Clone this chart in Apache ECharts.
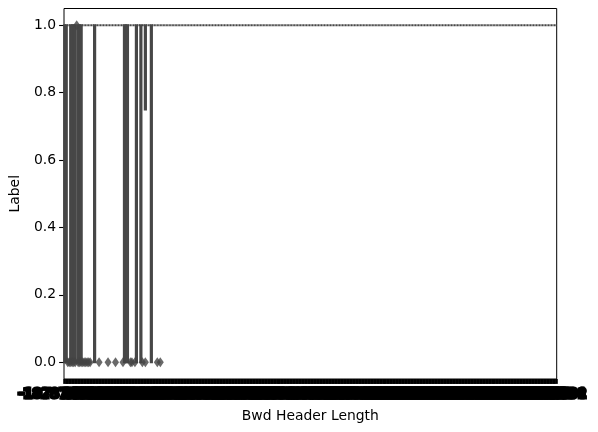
<!DOCTYPE html>
<html><head><meta charset="utf-8">
<script src="https://cdn.jsdelivr.net/npm/echarts@6/dist/echarts.min.js"></script>
<style>html,body{margin:0;padding:0;background:#fff}#c{width:598px;height:432px}</style>
</head><body><div id="c"></div>
<script>
// Category values of Bwd Header Length (x axis, sorted)
const bwdHeaderLength = [
-1828716544,-1073741320,0,
20,24,28,32,36,40,44,48,52,56,
60,64,68,72,76,80,84,88,92,96,
100,104,108,112,116,120,124,128,132,136,
140,144,148,152,156,160,164,168,172,176,
180,184,188,192,196,200,204,208,212,216,
220,224,228,232,236,240,244,248,252,256,
260,264,268,272,276,280,284,288,292,296,
300,304,308,312,316,320,324,328,332,336,
340,344,348,352,356,360,364,368,372,376,
380,384,388,392,396,400,404,408,412,416,
420,424,428,432,436,440,444,448,452,456,
460,464,468,472,476,480,484,488,492,496,
500,504,508,512,516,520,524,528,532,536,
540,544,548,552,556,560,564,568,572,576,
580,584,588,592,596,600,604,608,612,616,
620,624,628,632,636,640,644,648,652,656,
660,664,668,672,676,680,684,688,692,696,
700,704,708,712,716,720,724,728,732,736,
740,744,748,752,756,760,764,768,772,776,
780,784,788,792,796,800,804,
812,824,840,852,864,880,896,912,932,952,
972,992,1012,1032,1060,1088,1116,1144,1172,1200,
1232,1264,1296,1332,1368,1404,1440,1480,1520,1560,
1604,1648,1692,1740,1788,1836,1888,1940,1992,2048,
2104,2164,2224,2288,2352,2420,2488,2560,2632,2708,
2784,2864,2948,3032,3120,3212,3304,3400,3500,3604,
3712,3824,3940,4060,4184,4312,4444,4580,4720,4868,
5020,5176,5340,5508,5684,5868,6056,6252,6456,6668,
6888,7116,7352,7600,7860,8128,8408,8700,9004,9320,
9648,9992,10352,10724,11116,11528,11960,12412,12888,13388,
13916,14472,15060,15684,16344,17044,17788,18580,19424,20324,
21288,22324,23436,24632,25928,27336,28872,30552,32400,34440,
36704,39232,42076,45300,48988,53252,58240,64152,1167684,6554532
];
// Categories whose Label box spans 0..1
const boxesZeroToOne = [-1828716544,-1073741320,24,28,32,36,44,48,52,88,168,172,176,200,212,240];
// Categories whose box spans 0.75..1
const boxesPartial = [224];
const partialLow = [0.75];
// Categories whose Label values are all 0
const boxesAllZero = [40];
// Outlier points (fliers)
const outliersAtZero = [0,20,24,28,32,36,44,48,52,56,60,64,68,72,76,100,124,144,164,184,188,196,216,224,256,264];
const outliersAtOne = [40];
const yTicks = [0,0.2,0.4,0.6,0.8,1.0];

const cats = bwdHeaderLength.map(String);
const boxData = bwdHeaderLength.map(v => {
  if (boxesZeroToOne.includes(v)) return [0,0,1,1,1];
  const p = boxesPartial.indexOf(v);
  if (p >= 0) return [partialLow[p],partialLow[p],1,1,1];
  if (boxesAllZero.includes(v)) return [0,0,0,0,0];
  return [1,1,1,1,1];
});
const flierData = outliersAtZero.map(v => [String(v),0]).concat(outliersAtOne.map(v => [String(v),1]));

const txt = {fontFamily:'DejaVu Sans', fontSize:13.9, color:'#000'};
const chart = echarts.init(document.getElementById('c'), null, {renderer:'canvas'});
chart.setOption({
  animation:false,
  textStyle:{fontFamily:'DejaVu Sans'},
  grid:{left:61.5, right:41.3, top:8.5, bottom:53, show:true, borderColor:'#000', borderWidth:1, backgroundColor:'transparent'},
  xAxis:{
    type:'category', data:cats, boundaryGap:true,
    name:'Bwd Header Length', nameLocation:'middle', nameGap:30, nameTextStyle:txt,
    axisLine:{show:false, onZero:false},
    axisTick:{show:true, interval:0, alignWithLabel:true, length:4.9, lineStyle:{color:'#000', width:2.6}},
    axisLabel:Object.assign({interval:0, margin:8, hideOverlap:false, textBorderColor:'#000', textBorderWidth:3}, txt),
    splitLine:{show:false}
  },
  yAxis:{
    type:'value', min:-0.05, max:1.05,
    name:'Label', nameLocation:'middle', nameGap:42, nameTextStyle:txt,
    axisLine:{show:false},
    axisTick:{show:true, customValues:yTicks, length:4.9, lineStyle:{color:'#000', width:1.1}},
    axisLabel:Object.assign({customValues:yTicks, formatter:v => Number(v).toFixed(1), margin:8}, txt),
    splitLine:{show:false}
  },
  series:[
    {type:'boxplot', data:boxData, boxWidth:['80%','80%'], silent:true,
     itemStyle:{color:'#474747', borderColor:'#474747', borderWidth:2}},
    {type:'scatter', data:flierData, symbol:'diamond', symbolSize:[7,10], silent:true,
     itemStyle:{color:'#444444'}}
  ]
});
</script></body></html>
